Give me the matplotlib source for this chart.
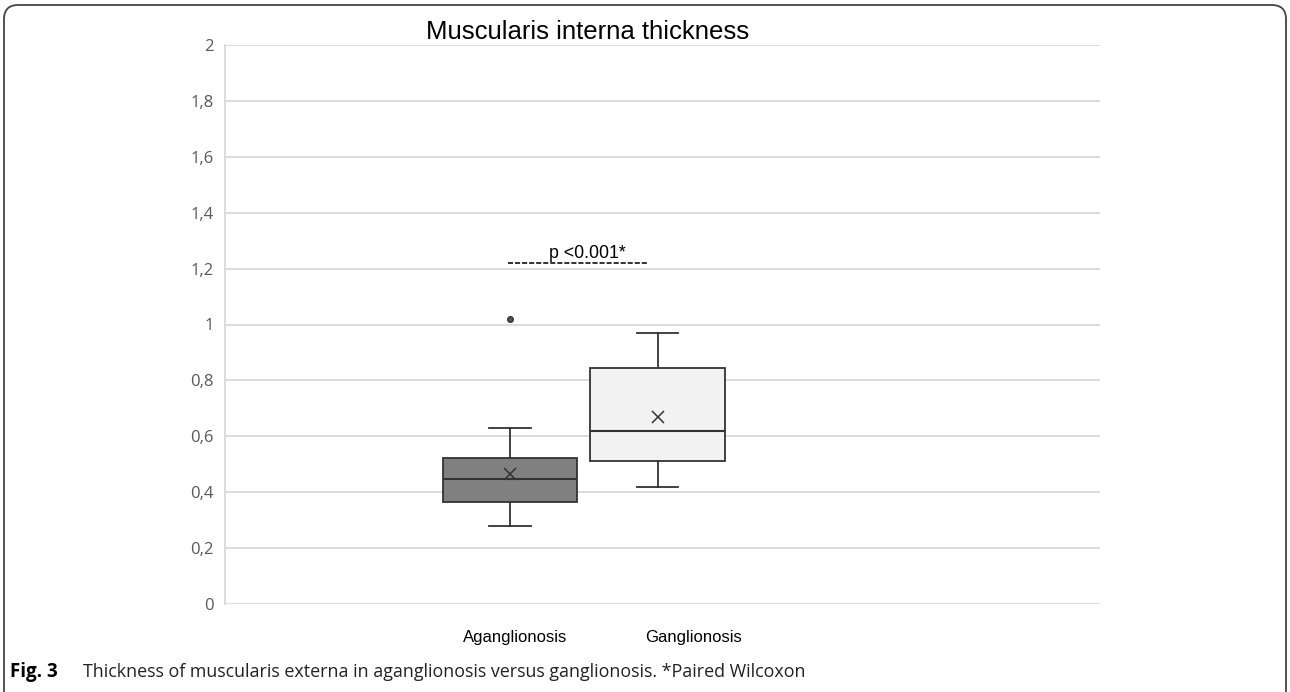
#!/usr/bin/env python3

import matplotlib.pyplot as plt
from matplotlib.patches import FancyBboxPatch

# values
groups = ['Aganglionosis', 'Ganglionosis']
whislo = [0.278, 0.418]
q1 = [0.364, 0.513]
med = [0.447, 0.618]
q3 = [0.523, 0.843]
whishi = [0.629, 0.970]
means = [0.465, 0.670]
fliers = [[1.02], []]
label_pos = [0.034, 1.243]  # category labels sit a bit off the boxes, as in the source
yticks = [0, 0.2, 0.4, 0.6, 0.8, 1, 1.2, 1.4, 1.6, 1.8, 2]
ytick_labels = ['0', '0,2', '0,4', '0,6', '0,8', '1', '1,2', '1,4', '1,6', '1,8', '2']
box_colors = ['#808080', '#f2f2f2']
p_text = 'p <0.001*'
p_level = 1.220

fig = plt.figure(figsize=(12.9, 6.92), dpi=100)
ax = fig.add_axes([225/1290, 1 - 604/692, 875/1290, 559/692])

stats = []
for i, g in enumerate(groups):
    stats.append(dict(label=g, whislo=whislo[i], q1=q1[i], med=med[i], q3=q3[i],
                      whishi=whishi[i], mean=means[i], fliers=fliers[i]))

edge = '#333333'
bp = ax.bxp(stats, positions=[0, 1], widths=0.91, capwidths=0.28, showmeans=True,
            patch_artist=True,
            boxprops=dict(edgecolor=edge, linewidth=1.3),
            medianprops=dict(color=edge, linewidth=1.5),
            whiskerprops=dict(color=edge, linewidth=1.3),
            capprops=dict(color=edge, linewidth=1.3),
            meanprops=dict(marker='x', markeredgecolor=edge, markersize=8, markeredgewidth=1.1),
            flierprops=dict(marker='o', markerfacecolor='#555555', markeredgecolor=edge,
                            markersize=4, markeredgewidth=1))
for patch, c in zip(bp['boxes'], box_colors):
    patch.set_facecolor(c)
for l in bp['medians'] + bp['whiskers'] + bp['caps'] + bp['boxes'] + bp['means'] + bp['fliers']:
    l.set_zorder(3)

ax.set_xlim(-1.926, 3.99)
ax.set_ylim(0, 2)
ax.set_yticks(yticks)
ax.set_yticklabels(ytick_labels, fontsize=12, color='#595959', family='Open Sans')
ax.set_xticks(label_pos)
ax.set_xticklabels(groups, fontsize=12, family='Liberation Sans')
ax.tick_params(length=0)
ax.tick_params(axis='y', pad=8)
ax.tick_params(axis='x', pad=19)
ax.grid(axis='y', color='#d9d9d9', linewidth=1.3, zorder=0)
ax.set_axisbelow(True)
for s in ['top', 'right', 'bottom']:
    ax.spines[s].set_visible(False)
ax.spines['left'].set_color('#d9d9d9')
ax.spines['left'].set_linewidth(1.3)
ax.spines['left'].set_bounds(0, 2)

# significance bar
ax.plot([-0.01, 0.925], [p_level, p_level], color='#222222', linestyle=(0, (2.8, 1.1)),
        linewidth=1.3, zorder=3)
ax.text(0.527, 1.238, p_text, ha='center', va='baseline', fontsize=12.8,
        family='Liberation Sans')

fig.text(588/1290, 1 - 32/692, 'Muscularis interna thickness', ha='center', va='center',
         fontsize=18.5, family='Liberation Sans')

# caption
fig.text(10/1290, 1 - 672/692, 'Fig. 3', ha='left', va='center', fontsize=13.5,
         fontweight='bold', family='Open Sans')
fig.text(83/1290, 1 - 672/692,
         'Thickness of muscularis externa in aganglionosis versus ganglionosis. *Paired Wilcoxon',
         ha='left', va='center', fontsize=12.9, family='Open Sans', color='#222222')

# rounded frame, open at the bottom
frame = FancyBboxPatch((4/1290, -0.2), 1282/1290, 1.2 - 5/692,
                       boxstyle='round,pad=0,rounding_size=0.011',
                       transform=fig.transFigure, fill=False, edgecolor='#444444',
                       linewidth=1.3, mutation_aspect=1290/692)
fig.patches.append(frame)

fig.savefig('out.png', dpi=100)
